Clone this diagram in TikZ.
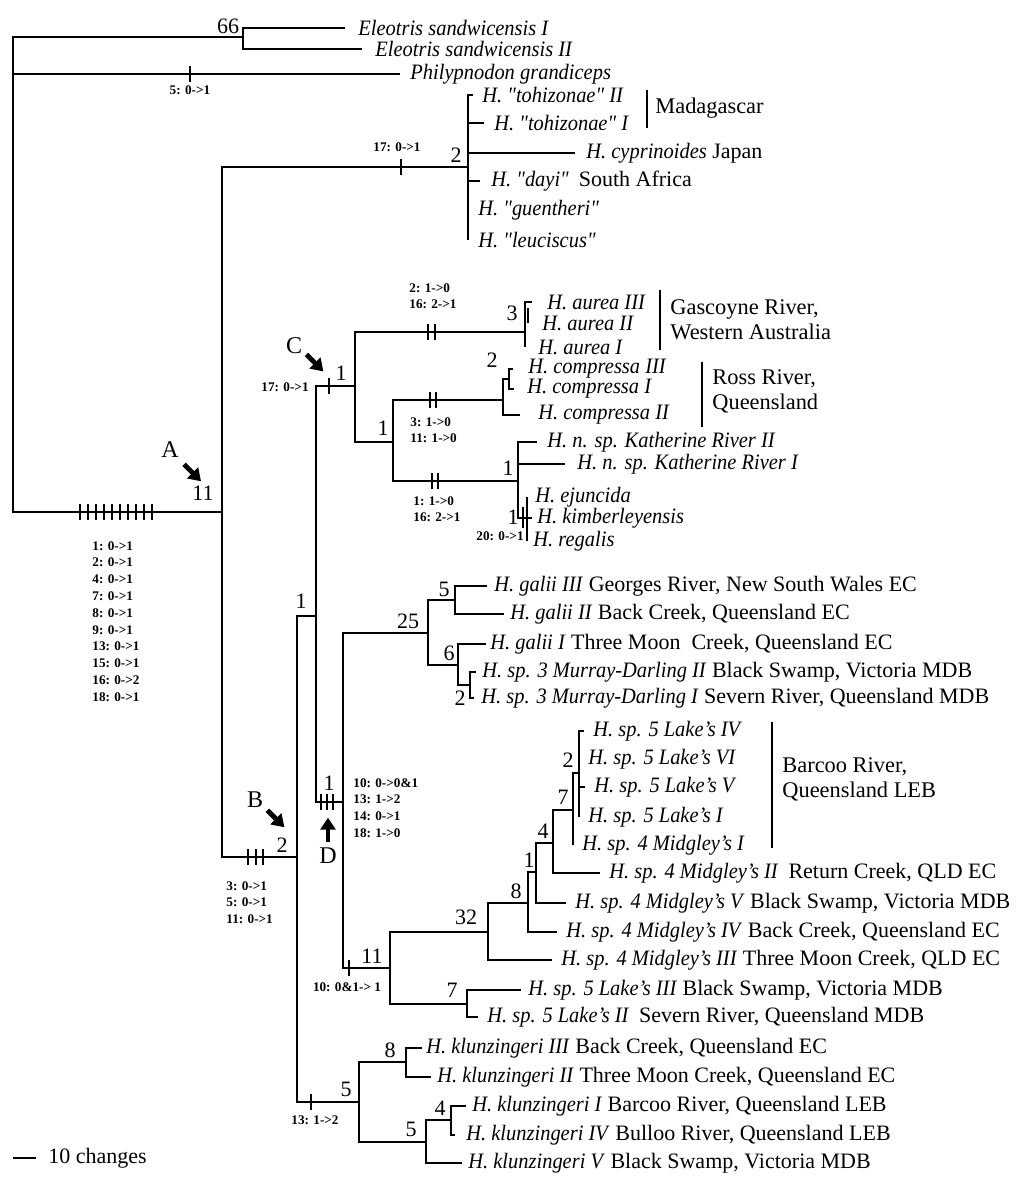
\documentclass[tikz,border=0pt]{standalone}
\usepackage{fontspec}
\setmainfont{Liberation Serif}[Ligatures=TeXOff, ItalicFeatures={FakeStretch=0.93}]
\usetikzlibrary{arrows.meta,positioning}

\begin{document}
\begin{tikzpicture}[
  x=0.5pt, y=-0.5pt,
  node distance=4.5pt,
  tree/.style={line width=1pt},
  taxon/.style={inner sep=0pt, font=\fontsize{11}{13}\selectfont},
  place/.style={inner sep=0pt, anchor=west, align=left, font=\fontsize{11.2}{12.5}\selectfont},
  supp/.style={inner sep=0pt, font=\fontsize{11}{13}\selectfont},
  chg/.style={inner sep=0pt, align=left, font=\fontsize{6.6}{8.4}\selectfont\bfseries},
  letter/.style={inner sep=0pt, font=\fontsize{12}{14}\selectfont},
  pointer/.style={-{Triangle[length=6pt,width=7.5pt]}, line width=2.4pt}]
\useasboundingbox (0,0) rectangle (1020,1192);

% branching points and branch tips
\coordinate (root) at (13,300);
\coordinate (eleo) at (243,37);
\coordinate (e1) at (345,28);
\coordinate (e2) at (362,49);
\coordinate (ph) at (400,74);
\coordinate (nA) at (222,512);
\coordinate (mad) at (468,167);
\coordinate (th2) at (473,95);
\coordinate (th1) at (484,123);
\coordinate (cyp) at (575,153);
\coordinate (dayi) at (480,181);
\coordinate (guen) at (468,210);
\coordinate (leuc) at (468,240);
\coordinate (nB) at (297,857);
\coordinate (n1) at (316,616);
\coordinate (nC) at (355,386);
\coordinate (aur) at (525,332);
\coordinate (a3) at (532,302);
\coordinate (a2top) at (528,308);
\coordinate (a2) at (528,323);
\coordinate (a1) at (525,347);
\coordinate (nK) at (393,442);
\coordinate (comp) at (503,400);
\coordinate (cs) at (509,379);
\coordinate (c3) at (513,369);
\coordinate (c1) at (514,389);
\coordinate (c2) at (520,415);
\coordinate (kat) at (518,481);
\coordinate (kr2) at (537,442);
\coordinate (kr1) at (565,464);
\coordinate (ej) at (527,518);
\coordinate (ejun) at (527,497);
\coordinate (kimb) at (532,518);
\coordinate (rega) at (527,541);
\coordinate (nD) at (343,802);
\coordinate (gal) at (428,633);
\coordinate (g5) at (455,600);
\coordinate (gIII) at (487,586);
\coordinate (gII) at (504,614);
\coordinate (g6) at (458,665);
\coordinate (gI) at (486,644);
\coordinate (g2) at (470,685);
\coordinate (md2) at (476,672);
\coordinate (md1) at (474,698);
\coordinate (n11) at (390,968);
\coordinate (n32) at (488,932);
\coordinate (n8) at (528,903);
\coordinate (nn1) at (536,872);
\coordinate (n4) at (553,843);
\coordinate (n7) at (573,810);
\coordinate (n2) at (579,773);
\coordinate (lIV) at (584,731);
\coordinate (lVI) at (579,759);
\coordinate (lV) at (585,787);
\coordinate (lI) at (579,817);
\coordinate (mI) at (573,845);
\coordinate (m2) at (600,873);
\coordinate (m5) at (566,903);
\coordinate (m4) at (557,932);
\coordinate (m3) at (552,960);
\coordinate (l7) at (467,1004);
\coordinate (l3) at (521,990);
\coordinate (l2) at (478,1017);
\coordinate (kl) at (359,1102);
\coordinate (k8) at (406,1062);
\coordinate (k3) at (422,1048);
\coordinate (k2) at (431,1077);
\coordinate (k5) at (426,1142);
\coordinate (k4) at (451,1120);
\coordinate (k1) at (466,1106);
\coordinate (kIV) at (455,1135);
\coordinate (kV) at (462,1163);

% branches
\draw[tree] (root) |- (eleo);
\draw[tree] (root) |- (ph);
\draw[tree] (root) |- (nA);
\draw[tree] (eleo) |- (e1);
\draw[tree] (eleo) |- (e2);
\draw[tree] (nA) |- (mad);
\draw[tree] (nA) |- (nB);
\foreach \t in {th2,th1,cyp,dayi,guen,leuc} \draw[tree] (mad) |- (\t);
\draw[tree] (nB) |- (n1);
\draw[tree] (nB) |- (kl);
\draw[tree] (n1) |- (nC);
\draw[tree] (n1) |- (nD);
\draw[tree] (nC) |- (aur);
\draw[tree] (nC) |- (nK);
\draw[tree] (aur) |- (a3);
\draw[tree] (aur) |- (a1);
\draw[tree] (a2top) -- (a2);
\draw[tree] (nK) |- (comp);
\draw[tree] (nK) |- (kat);
\draw[tree] (comp) |- (cs);
\draw[tree] (comp) |- (c2);
\draw[tree] (cs) |- (c3);
\draw[tree] (cs) |- (c1);
\draw[tree] (kat) |- (kr2);
\draw[tree] (kat) |- (kr1);
\draw[tree] (kat) |- (ej);
\draw[tree] (ej) |- (ejun);
\draw[tree] (ej) |- (kimb);
\draw[tree] (ej) |- (rega);
\draw[tree] (nD) |- (gal);
\draw[tree] (nD) |- (n11);
\draw[tree] (gal) |- (g5);
\draw[tree] (gal) |- (g6);
\draw[tree] (g5) |- (gIII);
\draw[tree] (g5) |- (gII);
\draw[tree] (g6) |- (gI);
\draw[tree] (g6) |- (g2);
\draw[tree] (g2) |- (md2);
\draw[tree] (g2) |- (md1);
\draw[tree] (n11) |- (n32);
\draw[tree] (n11) |- (l7);
\draw[tree] (n32) |- (n8);
\draw[tree] (n32) |- (m3);
\draw[tree] (n8) |- (nn1);
\draw[tree] (n8) |- (m4);
\draw[tree] (nn1) |- (n4);
\draw[tree] (nn1) |- (m5);
\draw[tree] (n4) |- (n7);
\draw[tree] (n4) |- (m2);
\draw[tree] (n7) |- (n2);
\draw[tree] (n7) |- (mI);
\foreach \t in {lIV,lVI,lV,lI} \draw[tree] (n2) |- (\t);
\draw[tree] (l7) |- (l3);
\draw[tree] (l7) |- (l2);
\draw[tree] (kl) |- (k8);
\draw[tree] (kl) |- (k5);
\draw[tree] (k8) |- (k3);
\draw[tree] (k8) |- (k2);
\draw[tree] (k5) |- (k4);
\draw[tree] (k5) |- (kV);
\draw[tree] (k4) |- (k1);
\draw[tree] (k4) |- (kIV);

% character changes on branches
\foreach \t in {80,88,...,152} \draw[tree] (\t,504) -- (\t,520);
\draw[tree] (190,66) -- (190,82);
\draw[tree] (401,159) -- (401,175);
\foreach \t in {248,256,263} \draw[tree] (\t,849) -- (\t,865);
\draw[tree] (329,378) -- (329,394);
\foreach \t in {428,435} \draw[tree] (\t,324) -- (\t,340);
\foreach \t in {430,436} \draw[tree] (\t,392) -- (\t,408);
\foreach \t in {432,438} \draw[tree] (\t,473) -- (\t,489);
\draw[tree] (523,507) -- (523,528);
\foreach \t in {321,327,333} \draw[tree] (\t,794) -- (\t,810);
\draw[tree] (349,960) -- (349,976);
\draw[tree] (311,1094) -- (311,1110);

\node[chg, anchor=center] (c5) at (190,90) {5: 0->1};
\node[chg, anchor=center] (c17a) at (397,147) {17: 0->1};
\node[chg, anchor=north west] (cA) at (92,541) {1: 0->1\\2: 0->1\\4: 0->1\\7: 0->1\\8: 0->1\\9: 0->1\\13: 0->1\\15: 0->1\\16: 0->2\\18: 0->1};
\node[chg, anchor=north west] (cB) at (226,881) {3: 0->1\\5: 0->1\\11: 0->1};
\node[chg, anchor=east] (c17b) at (309,387) {17: 0->1};
\node[chg, anchor=north west] (caur) at (409,283) {2: 1->0\\16: 2->1};
\node[chg, anchor=north west] (ccomp) at (410,417) {3: 1->0\\11: 1->0};
\node[chg, anchor=north west] (ckat) at (413,496) {1: 1->0\\16: 2->1};
\node[chg, anchor=east] (cej) at (524,536) {20: 0->1};
\node[chg, anchor=north west] (cD) at (353,778) {10: 0->0\&1\\13: 1->2\\14: 0->1\\18: 1->0};
\node[chg, anchor=center] (c11) at (347,987) {10: 0\&1-> 1};
\node[chg, anchor=center] (ckl) at (315,1120) {13: 1->2};

% support values
\node[supp] (s66) at (228,26) {66};
\node[supp] (sA) at (203,493) {11};
\node[supp] (smad) at (456,155) {2};
\node[supp] (sB) at (282,845) {2};
\node[supp] (s1) at (301,601) {1};
\node[supp] (sC) at (341,373) {1};
\node[supp] (saur) at (512,313) {3};
\node[supp] (sK) at (383,428) {1};
\node[supp] (scomp) at (492,360) {2};
\node[supp] (skat) at (508,468) {1};
\node[supp] (sej) at (513,517) {1};
\node[supp] (sD) at (329,783) {1};
\node[supp] (sgal) at (408,621) {25};
\node[supp] (sg5) at (444,589) {5};
\node[supp] (sg6) at (449,653) {6};
\node[supp] (sg2) at (460,698) {2};
\node[supp] (sn2) at (568,760) {2};
\node[supp] (sn7) at (563,797) {7};
\node[supp] (sn4) at (543,831) {4};
\node[supp] (snn1) at (529,860) {1};
\node[supp] (sn8) at (516,891) {8};
\node[supp] (sn32) at (466,917) {32};
\node[supp] (sn11) at (372,956) {11};
\node[supp] (sl7) at (452,990) {7};
\node[supp] (skl) at (346,1089) {5};
\node[supp] (sk8) at (390,1050) {8};
\node[supp] (sk5) at (411,1129) {5};
\node[supp] (sk4) at (440,1108) {4};

% clade markers
\node[letter] (lblA) at (170,450) {A};
\draw[pointer] ([shift={(5,6)}]lblA.south east) -- ++(17,17);
\node[letter] (lblB) at (255,800) {B};
\draw[pointer] ([shift={(4,2)}]lblB.south east) -- ++(17,17);
\node[letter] (lblC) at (294,346) {C};
\draw[pointer] ([shift={(4,0)}]lblC.south east) -- ++(17,17);
\node[letter] (lblD) at (328,856) {D};
\draw[pointer] ([yshift=3]lblD.north) -- ++(0,-24);

% taxa
\node[taxon, right=6.5pt of e1] (te1) {\textit{Eleotris sandwicensis I}};
\node[taxon, right=6.5pt of e2] (te2) {\textit{Eleotris sandwicensis II}};
\node[taxon, right=5pt of ph] (tph) {\textit{Philypnodon grandiceps}};
\node[taxon, right=of th2] (tth2) {\textit{H. "tohizonae" II}};
\node[taxon, right=5pt of th1] (tth1) {\textit{H. "tohizonae" I}};
\node[taxon, right=5.5pt of cyp] (tcyp) {\textit{H. cyprinoides} Japan};
\node[taxon, right=5.5pt of dayi] (tdayi) {\textit{H. "dayi"}\hspace{0.45em}South Africa};
\node[taxon, right=5pt of guen] (tguen) {\textit{H. "guentheri"}};
\node[taxon, right=5pt of leuc] (tleuc) {\textit{H. "leuciscus"}};
\node[taxon, right=7.5pt of a3] (ta3) {\textit{H. aurea III}};
\node[taxon, right=7pt of a2] (ta2) {\textit{H. aurea II}};
\node[taxon, right=6.5pt of a1] (ta1) {\textit{H. aurea I}};
\node[taxon, right=7.5pt of c3] (tc3) {\textit{H. compressa III}};
\node[taxon, right=6.5pt of c1] (tc1) {\textit{H. compressa I}};
\node[taxon, right=9pt of c2] (tc2) {\textit{H. compressa II}};
\node[taxon, right=5pt of kr2] (tkr2) {\textit{H. n. sp. Katherine River II}};
\node[taxon, right=6pt of kr1] (tkr1) {\textit{H. n. sp. Katherine River I}};
\node[taxon, right=4pt of ejun] (tejun) {\textit{H. ejuncida}};
\node[taxon, right=2.5pt of kimb] (tkimb) {\textit{H. kimberleyensis}};
\node[taxon, right=3pt of rega] (trega) {\textit{H. regalis}};
\node[taxon, right=3.5pt of gIII] (tgIII) {\textit{H. galii III} Georges River, New South Wales EC};
\node[taxon, right=3pt of gII] (tgII) {\textit{H. galii II} Back Creek, Queensland EC};
\node[taxon, right=2pt of gI] (tgI) {\textit{H. galii I} Three Moon\ \ Creek, Queensland EC};
\node[taxon, right=3pt of md2] (tmd2) {\textit{H. sp. 3 Murray-Darling II} Black Swamp, Victoria MDB};
\node[taxon, right=3.5pt of md1] (tmd1) {\textit{H. sp. 3 Murray-Darling I} Severn River, Queensland MDB};
\node[taxon, right=of lIV] (tlIV) {\textit{H. sp. 5 Lake’s IV}};
\node[taxon, right=of lVI] (tlVI) {\textit{H. sp. 5 Lake’s VI}};
\node[taxon, right=of lV] (tlV) {\textit{H. sp. 5 Lake’s V}};
\node[taxon, right=of lI] (tlI) {\textit{H. sp. 5 Lake’s I}};
\node[taxon, right=of mI] (tmI) {\textit{H. sp. 4 Midgley’s I}};
\node[taxon, right=of m2] (tm2) {\textit{H. sp. 4 Midgley’s II}\hspace{0.45em}Return Creek, QLD EC};
\node[taxon, right=4.5pt of m5] (tm5) {\textit{H. sp. 4 Midgley’s V} Black Swamp, Victoria MDB};
\node[taxon, right=of m4] (tm4) {\textit{H. sp. 4 Midgley’s IV} Back Creek, Queensland EC};
\node[taxon, right=of m3] (tm3) {\textit{H. sp. 4 Midgley’s III} Three Moon Creek, QLD EC};
\node[taxon, right=3.5pt of l3] (tl3) {\textit{H. sp. 5 Lake’s III} Black Swamp, Victoria MDB};
\node[taxon, right=of l2] (tl2) {\textit{H. sp. 5 Lake’s II}\hspace{0.45em}Severn River, Queensland MDB};
\node[taxon, right=2pt of k3] (tk3) {\textit{H. klunzingeri III} Back Creek, Queensland EC};
\node[taxon, right=3pt of k2] (tk2) {\textit{H. klunzingeri II} Three Moon Creek, Queensland EC};
\node[taxon, right=3pt of k1] (tk1) {\textit{H. klunzingeri I} Barcoo River, Queensland LEB};
\node[taxon, right=5.5pt of kIV] (tkIV) {\textit{H. klunzingeri IV} Bulloo River, Queensland LEB};
\node[taxon, right=3pt of kV] (tkV) {\textit{H. klunzingeri V} Black Swamp, Victoria MDB};

% localities
\coordinate (madT) at (647,90);  \coordinate (madB) at (647,128);
\coordinate (gasT) at (660,290); \coordinate (gasB) at (660,350);
\coordinate (rosT) at (702,362); \coordinate (rosB) at (702,427);
\coordinate (barT) at (772,722); \coordinate (barB) at (772,848);
\draw[tree] (madT) -- (madB);
\draw[tree] (gasT) -- (gasB);
\draw[tree] (rosT) -- (rosB);
\draw[tree] (barT) -- (barB);
\node[place] (madag) at (655,108) {Madagascar};
\node[place] (gasc) at (670,320) {Gascoyne River,\\Western Australia};
\node[place] (ross) at (712,391) {Ross River,\\Queensland};
\node[place] (barc) at (782,779) {Barcoo River,\\Queensland LEB};

% scale
\coordinate (sc1) at (13,1158);
\coordinate (sc2) at (36,1158);
\draw[tree] (sc1) -- (sc2);
\node[taxon, right=6pt of sc2] (scale) {10 changes};
\end{tikzpicture}
\end{document}
